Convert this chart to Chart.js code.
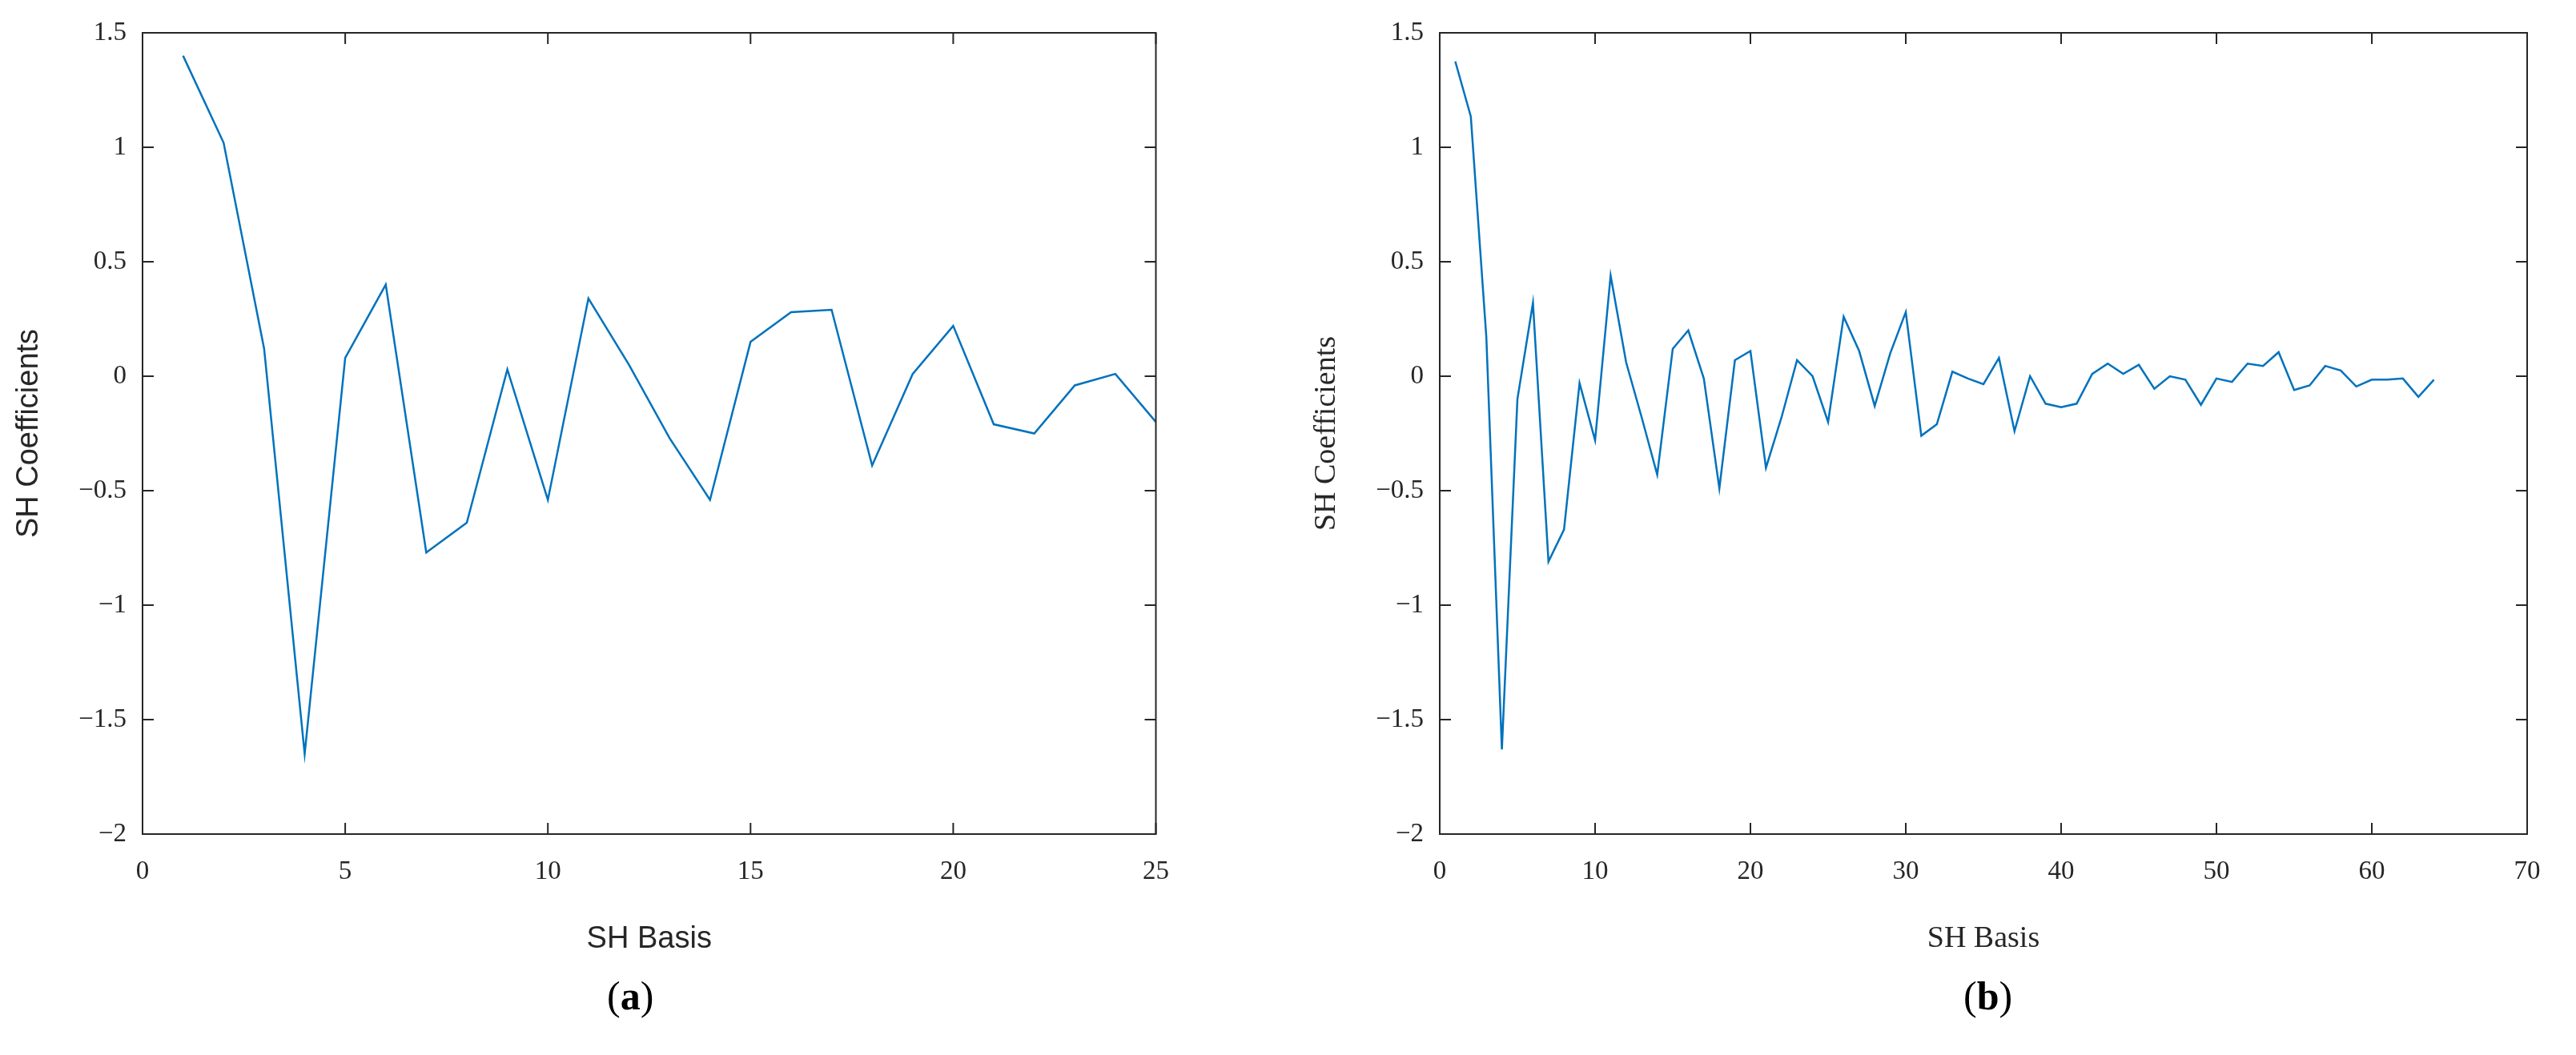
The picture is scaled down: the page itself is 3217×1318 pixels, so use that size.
<!DOCTYPE html>
<html><head><meta charset="utf-8">
<script src="https://cdn.jsdelivr.net/npm/chart.js@4"></script>
<style>
body{margin:0;background:#fff;width:3217px;height:1318px;position:relative;overflow:hidden}
.box{position:absolute;top:0;height:1200px}
.lab{position:absolute;top:1215px;font-family:"Liberation Serif",serif;font-size:50px}
</style></head><body>
<div class="box" style="left:0;width:1480px"><canvas id="ca"></canvas></div>
<div class="box" style="left:1620px;width:1597px"><canvas id="cb"></canvas></div>
<div class="lab" style="left:758px">(<b>a</b>)</div>
<div class="lab" style="left:2452px">(<b>b</b>)</div>
<script>
const basisA = Array.from({length:25},(_,i)=>i+1);
const coefA = [1.40,1.02,0.12,-1.65,0.08,0.40,-0.77,-0.64,0.03,-0.54,0.34,0.05,-0.27,-0.54,0.15,0.28,0.29,-0.39,0.01,0.22,-0.21,-0.25,-0.04,0.01,-0.20];
const basisB = Array.from({length:64},(_,i)=>i+1);
const coefB = [1.375,1.135,0.17,-1.63,-0.10,0.32,-0.81,-0.67,-0.03,-0.28,0.44,0.06,-0.18,-0.43,0.12,0.20,-0.01,-0.49,0.07,0.11,-0.40,-0.18,0.07,0.00,-0.20,0.26,0.11,-0.13,0.10,0.28,-0.26,-0.21,0.02,-0.01,-0.035,0.08,-0.24,0.00,-0.12,-0.135,-0.12,0.01,0.055,0.01,0.05,-0.055,0.00,-0.015,-0.125,-0.01,-0.025,0.055,0.045,0.105,-0.06,-0.04,0.045,0.025,-0.045,-0.015,-0.015,-0.01,-0.09,-0.015];
const yTicks = [1.5,1,0.5,0,-0.5,-1,-1.5,-2];

const frame = {id:'frame',afterDraw(c){
  const a=c.chartArea,x=c.scales.x,y=c.scales.y,g=c.ctx;
  g.save();g.strokeStyle='#262626';g.lineWidth=2;
  g.strokeRect(a.left,a.top,a.right-a.left,a.bottom-a.top);
  x.ticks.forEach(t=>{const p=x.getPixelForValue(t.value);
    g.beginPath();g.moveTo(p,a.bottom);g.lineTo(p,a.bottom-14);g.moveTo(p,a.top);g.lineTo(p,a.top+14);g.stroke();});
  y.ticks.forEach(t=>{const p=y.getPixelForValue(t.value);
    g.beginPath();g.moveTo(a.left,p);g.lineTo(a.left+14,p);g.moveTo(a.right,p);g.lineTo(a.right-14,p);g.stroke();});
  g.restore();}};

function make(id,xs,ys,xmax,yw,rightPad,titleFont){
  new Chart(document.getElementById(id),{type:'line',
    data:{datasets:[{data:xs.map((v,i)=>({x:v,y:ys[i]})),borderColor:'#0072BD',borderWidth:2.5,pointRadius:0,tension:0}]},
    options:{responsive:true,maintainAspectRatio:false,animation:false,
      layout:{autoPadding:false,padding:{top:41,right:rightPad,left:0,bottom:0}},
      plugins:{legend:{display:false},tooltip:{enabled:false}},
      scales:{
        x:{type:'linear',min:0,max:xmax,grid:{display:false},border:{display:false},
          afterFit(s){s.height=158;},
          ticks:{stepSize:xmax==25?5:10,color:'#262626',font:{family:'Liberation Serif',size:33},padding:20,maxRotation:0},
          title:{display:true,text:'SH Basis',color:'#262626',font:titleFont,padding:{top:4}}},
        y:{min:-2,max:1.5,grid:{display:false},border:{display:false},
          afterFit(s){s.width=yw;},
          afterBuildTicks(s){s.ticks=yTicks.map(v=>({value:v}));},
          ticks:{color:'#262626',font:{family:'Liberation Serif',size:33},padding:12,
            callback:v=>String(v).replace('-','\u2212')},
          title:{display:true,text:'SH Coefficients',color:'#262626',font:titleFont,padding:{top:14,bottom:8}}}}},
    plugins:[frame]});
}
make('ca',basisA,coefA,25,178,33,{family:'Liberation Sans',size:38});
make('cb',basisB,coefB,70,178,61,{family:'Liberation Serif',size:38});
</script></body></html>
